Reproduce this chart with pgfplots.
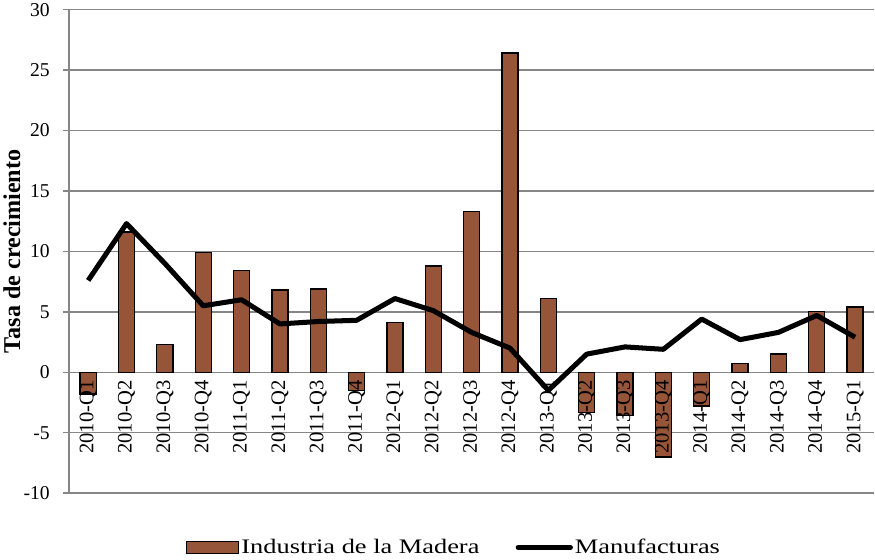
\documentclass[border=0pt]{standalone}
\usepackage{pgfplots}
\pgfplotsset{compat=1.18}
\usepackage{fontspec}
\setmainfont{Liberation Serif}
\newfontfamily\legendfont[FakeStretch=1.28]{Liberation Serif}
\definecolor{madera}{RGB}{150,84,56}
\definecolor{gridgray}{RGB}{134,134,134}
\pgfplotsset{
  layers/labelsontop/.define layer set={
    axis background,axis grid,axis ticks,axis lines,pre main,main,axis tick labels,axis descriptions,axis foreground
  }{/pgfplots/layers/standard},
}
\begin{document}
\begin{tikzpicture}
\begin{axis}[
  set layers=labelsontop,
  scale only axis,
  width=801pt, height=481pt,
  xmin=-0.5, xmax=20.5,
  ymin=-10, ymax=30,
  ytick={-10,-5,0,5,10,15,20,25,30},
  xtick={0,...,20},
  xticklabels={2010-Q1,2010-Q2,2010-Q3,2010-Q4,2011-Q1,2011-Q2,2011-Q3,2011-Q4,2012-Q1,2012-Q2,2012-Q3,2012-Q4,2013-Q1,2013-Q2,2013-Q3,2013-Q4,2014-Q1,2014-Q2,2014-Q3,2014-Q4,2015-Q1},
  axis y line*=left,
  axis x line*=middle,
  x axis line style={draw=gridgray, line width=1.5pt},
  y axis line style={draw=gridgray, line width=1.5pt},
  ymajorgrids,
  grid style={draw=gridgray, line width=1.5pt},
  xtick style={draw=none},
  ytick style={draw=gridgray, line width=1.5pt},
  tick align=outside,
  major tick length=6pt,
  /pgf/number format/assume math mode=true,
  xticklabel style={rotate=90, anchor=east, inner sep=2pt, font=\fontsize{20.5}{24}\selectfont},
  yticklabel style={anchor=east, inner sep=3pt, xshift=-10pt, font=\fontsize{19.5}{23}\selectfont},
  ylabel={\textbf{Tasa de crecimiento}},
  every axis y label/.style={at={(axis description cs:-0.071,0.5)}, rotate=90, anchor=center, font=\fontsize{24}{28}\selectfont},
  legend columns=2,
  legend style={at={(0.478,-0.087)}, anchor=north, draw=none, font=\legendfont\fontsize{20.5}{24}\selectfont,
    /tikz/every even column/.append style={column sep=34pt}},
]
\addplot[ybar, bar width=16pt, fill=madera, draw=black, line width=1.3pt,
  legend image code/.code={\draw[fill=madera, draw=black, line width=1.3pt] (0pt,-6pt) rectangle (52pt,6pt);}]
coordinates {
(0,-1.8) (1,11.6) (2,2.3) (3,9.9) (4,8.4) (5,6.8) (6,6.9) (7,-1.5) (8,4.1) (9,8.8)
(10,13.3) (11,26.4) (12,6.1) (13,-3.3) (14,-3.6) (15,-7.0) (16,-2.8) (17,0.7) (18,1.5) (19,5.0) (20,5.4)
};
\addlegendentry{Industria de la Madera}
\addplot[black, line width=5pt, line join=round, mark=none,
  legend image code/.code={\draw[black, line width=5pt, line cap=round] (0pt,0pt) -- (52pt,0pt);}]
coordinates {
(0,7.6) (1,12.3) (2,9.0) (3,5.5) (4,6.0) (5,4.0) (6,4.2) (7,4.3) (8,6.1) (9,5.1)
(10,3.3) (11,2.0) (12,-1.5) (13,1.5) (14,2.1) (15,1.9) (16,4.4) (17,2.7) (18,3.3) (19,4.7) (20,2.9)
};
\addlegendentry{Manufacturas}
\end{axis}
\end{tikzpicture}
\end{document}
